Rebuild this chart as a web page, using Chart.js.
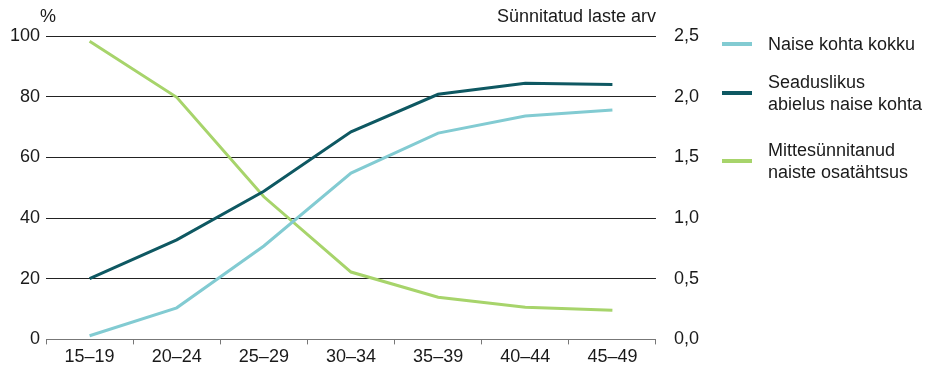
<!DOCTYPE html>
<html>
<head>
<meta charset="utf-8">
<script src="https://cdn.jsdelivr.net/npm/chart.js@4/dist/chart.umd.min.js"></script>
<style>
  body { margin: 0; background: #fff; font-family: "Liberation Sans", Arial, sans-serif; }
  #wrap { position: relative; width: 931px; height: 370px; }
  #legend { position: absolute; left: 722px; top: 0; font-size: 18px; color: #1a1a1a; line-height: 22px; }
  .item { position: absolute; left: 0; padding-left: 46px; white-space: nowrap; }
  .item span.mark { position: absolute; left: 0; width: 30px; height: 4px; }
</style>
</head>
<body>
<div id="wrap">
  <canvas id="chart" width="931" height="370"></canvas>
  <div id="legend"></div>
</div>
<script>
var ages = ['15–19', '20–24', '25–29', '30–34', '35–39', '40–44', '45–49'];
var total = [0.03, 0.26, 0.77, 1.37, 1.70, 1.84, 1.89];
var married = [0.50, 0.82, 1.22, 1.71, 2.02, 2.11, 2.10];
var childless = [98.3, 79.8, 47, 22.2, 13.9, 10.6, 9.6];
var names = [['Naise kohta kokku'], ['Seaduslikus', 'abielus naise kohta'], ['Mittesünnitanud', 'naiste osatähtsus']];
var colors = ['#82cbd2', '#0e5862', '#a7d46b'];
var legendTops = [33, 71, 139];

Chart.defaults.font.family = '"Liberation Sans", Arial, sans-serif';
Chart.defaults.font.size = 18;
Chart.defaults.color = '#1a1a1a';

// axis titles above the plot
var titles = {
  id: 'titles',
  afterDraw: function(chart) {
    let ctx = chart.ctx;
    let a = chart.chartArea;
    ctx.save();
    ctx.fillStyle = '#1a1a1a';
    ctx.font = '18px "Liberation Sans", Arial, sans-serif';
    ctx.textBaseline = 'alphabetic';
    ctx.textAlign = 'left';
    ctx.fillText('%', 40, 22);
    ctx.textAlign = 'right';
    ctx.fillText('Sünnitatud laste arv', a.right, 22);
    ctx.restore();
  }
};

var ctx = document.getElementById('chart');
var chart = new Chart(ctx, {
  type: 'line',
  data: {
    labels: ages,
    datasets: [
      { label: names[0].join(' '), data: total, yAxisID: 'y1', borderColor: colors[0], borderWidth: 3, pointRadius: 0, tension: 0 },
      { label: names[1].join(' '), data: married, yAxisID: 'y1', borderColor: colors[1], borderWidth: 3, pointRadius: 0, tension: 0 },
      { label: names[2].join(' '), data: childless, yAxisID: 'y', borderColor: colors[2], borderWidth: 3, pointRadius: 0, tension: 0 }
    ]
  },
  options: {
    responsive: false,
    animation: false,
    layout: { padding: { left: 4, right: 222, top: 36, bottom: 0 } },
    plugins: { legend: { display: false }, tooltip: { enabled: false } },
    scales: {
      x: {
        offset: true,
        grid: { display: true, offset: true, drawOnChartArea: false, tickLength: 5, color: '#777' },
        border: { display: true, color: '#777', width: 1 },
        ticks: { padding: 2, maxRotation: 0 }
      },
      y: {
        position: 'left',
        min: 0, max: 100,
        ticks: { stepSize: 20, padding: 6 },
        grid: { color: '#222', lineWidth: 1, drawTicks: false },
        border: { display: false }
      },
      y1: {
        position: 'right',
        min: 0, max: 2.5,
        ticks: { stepSize: 0.5, padding: 10, callback: function(v) { return v.toFixed(1).replace('.', ','); } },
        grid: { display: false },
        border: { display: false }
      }
    }
  },
  plugins: [titles]
});

let legend = document.getElementById('legend');
for (let i = 0; i < names.length; i++) {
  let div = document.createElement('div');
  div.className = 'item';
  div.style.top = legendTops[i] + 'px';
  let h = names[i].length * 22;
  div.innerHTML = '<span class="mark" style="top:' + (h / 2 - 2) + 'px;background:' + colors[i] + '"></span>' + names[i].join('<br>');
  legend.appendChild(div);
}
</script>
</body>
</html>
